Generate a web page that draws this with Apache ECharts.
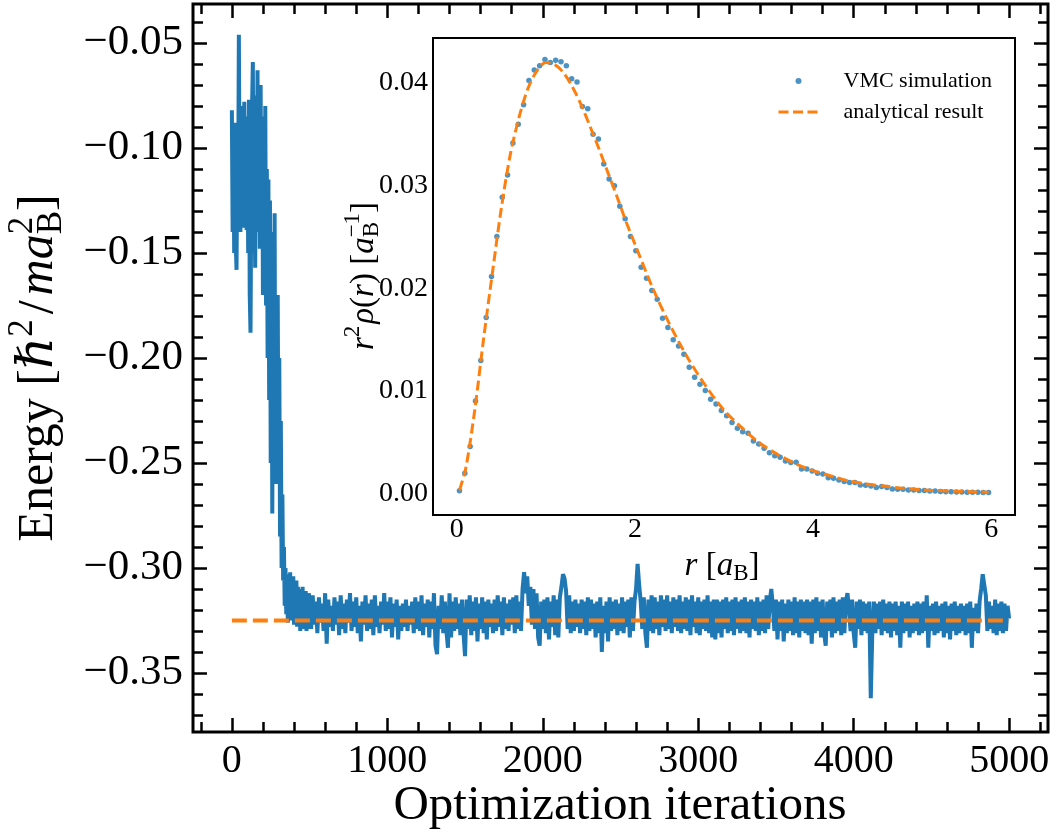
<!DOCTYPE html>
<html><head><meta charset="utf-8">
<script src="https://cdn.jsdelivr.net/npm/echarts@6/dist/echarts.min.js"></script>
<style>html,body{margin:0;padding:0;background:#fff}#c{width:1058px;height:837px}</style>
</head><body><div id="c"></div>
<script>
const FONT = '"Liberation Serif", "DejaVu Serif", serif';

// ---- main panel: energy vs optimization iteration ----
// transient part: one value every 5 iterations, iterations 0..495
const earlyStep = 5;
const earlyEnergy = [
-0.082,-0.140,-0.095,-0.150,-0.088,-0.145,-0.158,-0.100,-0.130,-0.046,
-0.120,-0.140,-0.080,-0.130,-0.090,-0.138,-0.078,-0.125,-0.095,-0.139,
-0.085,-0.150,-0.077,-0.170,-0.188,-0.120,-0.080,-0.059,-0.150,-0.100,
-0.157,-0.075,-0.140,-0.063,-0.130,-0.090,-0.148,-0.070,-0.140,-0.085,
-0.170,-0.095,-0.160,-0.080,-0.175,-0.110,-0.200,-0.115,-0.220,-0.125,
-0.250,-0.140,-0.274,-0.180,-0.240,-0.131,-0.260,-0.180,-0.209,-0.170,
-0.260,-0.200,-0.285,-0.230,-0.300,-0.265,-0.306,-0.290,-0.318,-0.300,
-0.322,-0.303,-0.326,-0.305,-0.320,-0.302,-0.325,-0.306,-0.324,-0.304,
-0.327,-0.307,-0.323,-0.306,-0.328,-0.309,-0.326,-0.310,-0.330,-0.311,
-0.327,-0.309,-0.329,-0.312,-0.328,-0.311,-0.330,-0.313,-0.329,-0.312
];
// converged part: one value every 10 iterations, iterations 500..5000
const lateStart = 500, lateStep = 10;
const energy = [
-0.318,-0.329,-0.313,-0.327,-0.316,-0.331,-0.314,-0.326,-0.317,-0.330,
-0.312,-0.336,-0.315,-0.328,-0.318,-0.330,-0.314,-0.327,-0.316,-0.332,
-0.313,-0.329,-0.317,-0.331,-0.315,-0.326,-0.312,-0.330,-0.316,-0.328,
-0.314,-0.331,-0.318,-0.335,-0.316,-0.327,-0.313,-0.330,-0.317,-0.329,
-0.315,-0.332,-0.313,-0.328,-0.318,-0.331,-0.316,-0.327,-0.312,-0.330,
-0.316,-0.329,-0.314,-0.333,-0.317,-0.328,-0.315,-0.334,-0.318,-0.330,
-0.317,-0.328,-0.315,-0.330,-0.318,-0.327,-0.316,-0.331,-0.314,-0.329,
-0.316,-0.330,-0.313,-0.332,-0.317,-0.328,-0.315,-0.333,-0.316,-0.329,
-0.312,-0.337,-0.341,-0.318,-0.329,-0.313,-0.331,-0.316,-0.330,-0.338,
-0.312,-0.333,-0.316,-0.330,-0.314,-0.329,-0.317,-0.332,-0.315,-0.331,
-0.342,-0.315,-0.329,-0.313,-0.332,-0.316,-0.330,-0.314,-0.335,-0.317,
-0.329,-0.314,-0.331,-0.316,-0.334,-0.315,-0.328,-0.317,-0.331,-0.315,
-0.330,-0.313,-0.328,-0.316,-0.332,-0.314,-0.329,-0.317,-0.330,-0.315,
-0.327,-0.314,-0.331,-0.313,-0.329,-0.316,-0.330,-0.310,-0.302,-0.312,
-0.304,-0.318,-0.309,-0.327,-0.310,-0.329,-0.312,-0.333,-0.337,-0.316,
-0.329,-0.315,-0.331,-0.314,-0.334,-0.316,-0.328,-0.313,-0.332,-0.315,
-0.333,-0.314,-0.309,-0.303,-0.305,-0.311,-0.329,-0.313,-0.331,-0.316,
-0.330,-0.315,-0.328,-0.317,-0.331,-0.315,-0.329,-0.316,-0.332,-0.314,
-0.330,-0.315,-0.329,-0.317,-0.333,-0.316,-0.331,-0.314,-0.340,-0.318,
-0.331,-0.316,-0.335,-0.314,-0.330,-0.316,-0.329,-0.315,-0.332,-0.317,
-0.330,-0.314,-0.331,-0.316,-0.328,-0.315,-0.333,-0.314,-0.330,-0.316,
-0.310,-0.298,-0.308,-0.316,-0.329,-0.314,-0.331,-0.338,-0.315,-0.330,
-0.313,-0.331,-0.314,-0.329,-0.316,-0.332,-0.313,-0.328,-0.315,-0.330,
-0.313,-0.329,-0.316,-0.331,-0.314,-0.328,-0.315,-0.330,-0.313,-0.331,
-0.316,-0.329,-0.314,-0.330,-0.315,-0.332,-0.313,-0.328,-0.316,-0.331,
-0.314,-0.332,-0.316,-0.329,-0.315,-0.330,-0.313,-0.331,-0.316,-0.333,
-0.315,-0.334,-0.315,-0.331,-0.316,-0.333,-0.315,-0.329,-0.314,-0.331,
-0.316,-0.330,-0.315,-0.332,-0.314,-0.329,-0.316,-0.331,-0.315,-0.330,
-0.314,-0.331,-0.316,-0.333,-0.315,-0.329,-0.316,-0.330,-0.314,-0.332,
-0.316,-0.330,-0.315,-0.331,-0.313,-0.329,-0.316,-0.310,-0.318,-0.330,
-0.315,-0.334,-0.316,-0.330,-0.315,-0.335,-0.317,-0.331,-0.315,-0.330,
-0.316,-0.332,-0.314,-0.331,-0.316,-0.333,-0.315,-0.330,-0.316,-0.331,
-0.315,-0.332,-0.316,-0.336,-0.315,-0.331,-0.314,-0.330,-0.316,-0.333,
-0.315,-0.331,-0.337,-0.316,-0.330,-0.315,-0.333,-0.314,-0.331,-0.316,
-0.330,-0.315,-0.332,-0.314,-0.331,-0.316,-0.312,-0.320,-0.330,-0.315,
-0.331,-0.338,-0.316,-0.329,-0.315,-0.332,-0.316,-0.330,-0.317,-0.331,
-0.316,-0.362,-0.330,-0.316,-0.331,-0.317,-0.329,-0.316,-0.332,-0.315,
-0.330,-0.317,-0.331,-0.316,-0.333,-0.317,-0.330,-0.316,-0.332,-0.318,
-0.338,-0.316,-0.331,-0.317,-0.330,-0.316,-0.333,-0.318,-0.331,-0.317,
-0.330,-0.316,-0.332,-0.317,-0.331,-0.316,-0.330,-0.313,-0.338,-0.318,
-0.330,-0.317,-0.332,-0.316,-0.331,-0.318,-0.330,-0.317,-0.333,-0.316,
-0.331,-0.318,-0.334,-0.317,-0.330,-0.316,-0.332,-0.318,-0.331,-0.317,
-0.330,-0.318,-0.332,-0.317,-0.331,-0.316,-0.338,-0.319,-0.330,-0.317,
-0.331,-0.316,-0.310,-0.303,-0.308,-0.313,-0.330,-0.316,-0.329,-0.318,
-0.331,-0.315,-0.332,-0.317,-0.330,-0.316,-0.331,-0.317,-0.330,-0.318,
-0.324
];
const refIter = [0, 5000];
const refEnergy = [-0.325, -0.325];

const mainXTickValues = [0, 1000, 2000, 3000, 4000, 5000];
const mainYTickValues = [-0.35, -0.30, -0.25, -0.20, -0.15, -0.10, -0.05];

// ---- inset: radial density ----
const vmcRho = [
0.00025,0.00195,0.00455,0.0090,0.01294,0.01713,0.02113,0.02503,0.02888,0.03105,
0.03415,0.0360,0.03788,0.04026,0.04127,0.04169,0.0423,0.04201,0.04224,0.04208,
0.04169,0.04042,0.0401,0.03772,0.03749,0.03502,0.03454,0.0321,0.03066,0.02998,
0.0280,0.02676,0.02503,0.02364,0.02205,0.02098,0.01977,0.01893,0.01707,0.01616,
0.01496,0.01437,0.01356,0.01229,0.01132,0.01063,0.01001,0.00917,0.00871,0.00806,
0.00757,0.00689,0.00634,0.00601,0.00585,0.0051,0.00481,0.00439,0.00396,0.00367,
0.00351,0.00315,0.00299,0.00302,0.00237,0.00237,0.00218,0.00195,0.00188,0.00152,
0.00146,0.0013,0.00114,0.00104,0.00104,0.00081,0.00078,0.00072,0.00055,0.00065,
0.00055,0.00042,0.00039,0.00039,0.00032,0.00032,0.00026,0.00026,0.00022,0.00022,
0.00016,0.00015,0.00014,0.00013,0.00012,0.00011,0.0001,0.00009,0.00008,0.00007
];
const vmcBinStart = 0.03, vmcBinWidth = 0.06;   // bin centres of the histogram
const anaR   = [0.03,0.1,0.2,0.3,0.4,0.5,0.6,0.7,0.8,0.9,1.0,1.1,1.2,1.3,1.4,1.5,1.6,1.7,1.8,1.9,2.0,2.2,2.4,2.6,2.8,3.0,3.2,3.4,3.6,3.8,4.0,4.2,4.4,4.6,4.8,5.0,5.3,5.6,5.97];
const anaRho = [0.0003,0.0024,0.0080,0.0150,0.0215,0.0278,0.0330,0.0367,0.0395,0.0412,0.0420,0.0418,0.0410,0.0396,0.0378,0.0357,0.0335,0.0312,0.0289,0.0265,0.0243,0.0200,0.0163,0.0131,0.0104,0.0081,0.0064,0.0049,0.0038,0.0029,0.0022,0.0017,0.0012,0.0009,0.0007,0.0005,0.0003,0.0002,0.0001];
const insetXTickValues = [0, 2, 4, 6];
const insetYTickValues = [0, 0.01, 0.02, 0.03, 0.04];

function steps(a, b, d) { const r = []; for (let v = a; v <= b + 1e-9; v += d) r.push(+v.toFixed(6)); return r; }
const mainXMinor = steps(-200, 5200, 200);
const mainYMinor = steps(-0.37, -0.04, 0.01);
const insetXMinor = steps(0, 6, 0.5);
const insetYMinor = steps(0, 0.044, 0.002);

const energyData = earlyEnergy.map((v, i) => [i * earlyStep, v])
  .concat(energy.map((v, i) => [lateStart + i * lateStep, v]));

const chart = echarts.init(document.getElementById('c'), null, {renderer: 'canvas'});

function axisSet(dim, gridIndex, min, max, major, minor, majLen, minLen, w, labelOpt) {
  const posA = dim === 'x' ? 'bottom' : 'left';
  const posB = dim === 'x' ? 'top' : 'right';
  const base = (pos, vals, len, lab) => ({
    type: 'value', gridIndex, min, max, position: pos,
    axisLine: {show: false, onZero: false}, splitLine: {show: false},
    axisTick: {show: true, inside: true, length: len, customValues: vals, lineStyle: {color: '#000', width: w}},
    axisLabel: lab ? Object.assign({show: true, customValues: major, color: '#000', fontFamily: FONT}, lab) : {show: false}
  });
  return [base(posA, major, majLen, labelOpt), base(posA, minor, minLen, null),
          base(posB, major, majLen, null), base(posB, minor, minLen, null)];
}
const fmtNeg = v => (v < 0 ? '\u2212' : '') + Math.abs(v).toFixed(2);

const xAxes = axisSet('x', 0, -250, 5250, mainXTickValues, mainXMinor, 14, 10, 2.5,
  {fontSize: 40, margin: 9, formatter: v => String(Math.round(v))})
  .concat(axisSet('x', 1, -0.267, 6.267, insetXTickValues, insetXMinor, 9, 7, 2,
  {fontSize: 28, margin: 1, formatter: v => String(Math.round(v))}));
const yAxes = axisSet('y', 0, -0.3781, -0.0314, mainYTickValues, mainYMinor, 14, 10, 2.5,
  {fontSize: 43, margin: 10, formatter: fmtNeg})
  .concat(axisSet('y', 1, -0.00212, 0.0444, insetYTickValues, insetYMinor, 9, 7, 2,
  {fontSize: 28, margin: 5, formatter: v => v.toFixed(2)}));

function mathGroup(parts, cx, cy, rot) {
  const ctx = document.createElement('canvas').getContext('2d');
  const kids = [];
  let x = 0;
  parts.forEach(p => {
    const items = p.stack || [p];
    let adv = 0;
    const x0 = x + (p.pre || 0);
    items.forEach(q => {
      const font = (q.it ? 'italic ' : '') + q.s + 'px ' + FONT;
      ctx.font = font;
      const w = ctx.measureText(q.t).width;
      kids.push({type: 'text', x: x0, y: q.dy || 0, silent: true,
        style: {text: q.t, font: font, fill: '#000', align: 'left', verticalAlign: 'middle',
                textAlign: 'left', textVerticalAlign: 'middle'}});
      adv = Math.max(adv, w);
    });
    x = x0 + adv + (p.post || 0);
  });
  kids.forEach(k => { k.x -= x / 2; });
  return {type: 'group', x: cx, y: cy, rotation: rot || 0, children: kids, silent: true};
}

const graphics = [
  mathGroup([
    {t: 'Energy [', s: 50},
    {t: '\u210F', s: 50, it: true},
    {t: '2', s: 35, dy: -16, post: 5},
    {t: '/', s: 50, post: 5},
    {t: 'ma', s: 50, it: true},
    {stack: [{t: '2', s: 35, dy: -16}, {t: 'B', s: 35, dy: 13}]},
    {t: ']', s: 50}
  ], 39, 368, Math.PI / 2),
  {type: 'text', x: 620, y: 806, silent: true,
   style: {text: 'Optimization iterations', font: '49px ' + FONT, fill: '#000',
           align: 'center', verticalAlign: 'middle', textAlign: 'center', textVerticalAlign: 'middle'}},
  mathGroup([
    {t: 'r', s: 33, it: true},
    {t: '2', s: 23, dy: -11, post: 2},
    {t: '\u03C1', s: 33, it: true},
    {t: '(', s: 33},
    {t: 'r', s: 33, it: true},
    {t: ') [', s: 33},
    {t: 'a', s: 33, it: true},
    {stack: [{t: '\u22121', s: 23, dy: -11}, {t: 'B', s: 23, dy: 8}]},
    {t: ']', s: 33}
  ], 364, 276, Math.PI / 2),
  mathGroup([
    {t: 'r', s: 33, it: true},
    {t: ' [', s: 33},
    {t: 'a', s: 33, it: true},
    {t: 'B', s: 23, dy: 8},
    {t: ']', s: 33}
  ], 722, 566, 0)
];

chart.setOption({
  animation: false,
  backgroundColor: '#fff',
  grid: [
    {left: 193, right: 10, top: 4, bottom: 105, show: true, borderColor: '#000', borderWidth: 3, backgroundColor: 'transparent'},
    {left: 433, right: 43, top: 38, bottom: 322, show: true, borderColor: '#000', borderWidth: 2, backgroundColor: '#fff', z: 5}
  ],
  xAxis: xAxes,
  yAxis: yAxes,
  legend: {
    z: 30,
    data: [{name: 'VMC simulation'}, {name: 'analytical result', itemStyle: {opacity: 0}}],
    orient: 'vertical', left: 777, top: 70, padding: 0, itemWidth: 40, itemHeight: 6, itemGap: 9,
    selectedMode: false,
    lineStyle: {width: 3, type: [10, 4.5]},
    textStyle: {fontFamily: FONT, fontSize: 22, color: '#000', padding: [0, 0, 0, 20]}
  },
  series: [
    {type: 'line', name: 'energy', xAxisIndex: 0, yAxisIndex: 0, showSymbol: false, symbol: 'none',
     data: energyData,
     lineStyle: {color: '#1f77b4', width: 4}, z: 2},
    {type: 'line', name: 'reference', xAxisIndex: 0, yAxisIndex: 0, showSymbol: false, symbol: 'none',
     data: refIter.map((x, i) => [x, refEnergy[i]]),
     lineStyle: {color: '#ff7f0e', width: 4, type: [15, 6]}, z: 3},
    {type: 'scatter', name: 'VMC simulation', xAxisIndex: 4, yAxisIndex: 4,
     data: vmcRho.map((v, k) => [vmcBinStart + k * vmcBinWidth, v]),
     symbolSize: 5.5, itemStyle: {color: '#1f77b4'}, z: 10},
    {type: 'line', name: 'analytical result', xAxisIndex: 4, yAxisIndex: 4, showSymbol: false, symbol: 'none',
     smooth: 0.3,
     data: anaR.map((r, i) => [r, anaRho[i]]),
     itemStyle: {color: '#ff7f0e'},
     lineStyle: {color: '#ff7f0e', width: 3, type: [10, 4.5]}, z: 11}
  ],
  graphic: graphics
});
</script></body></html>
